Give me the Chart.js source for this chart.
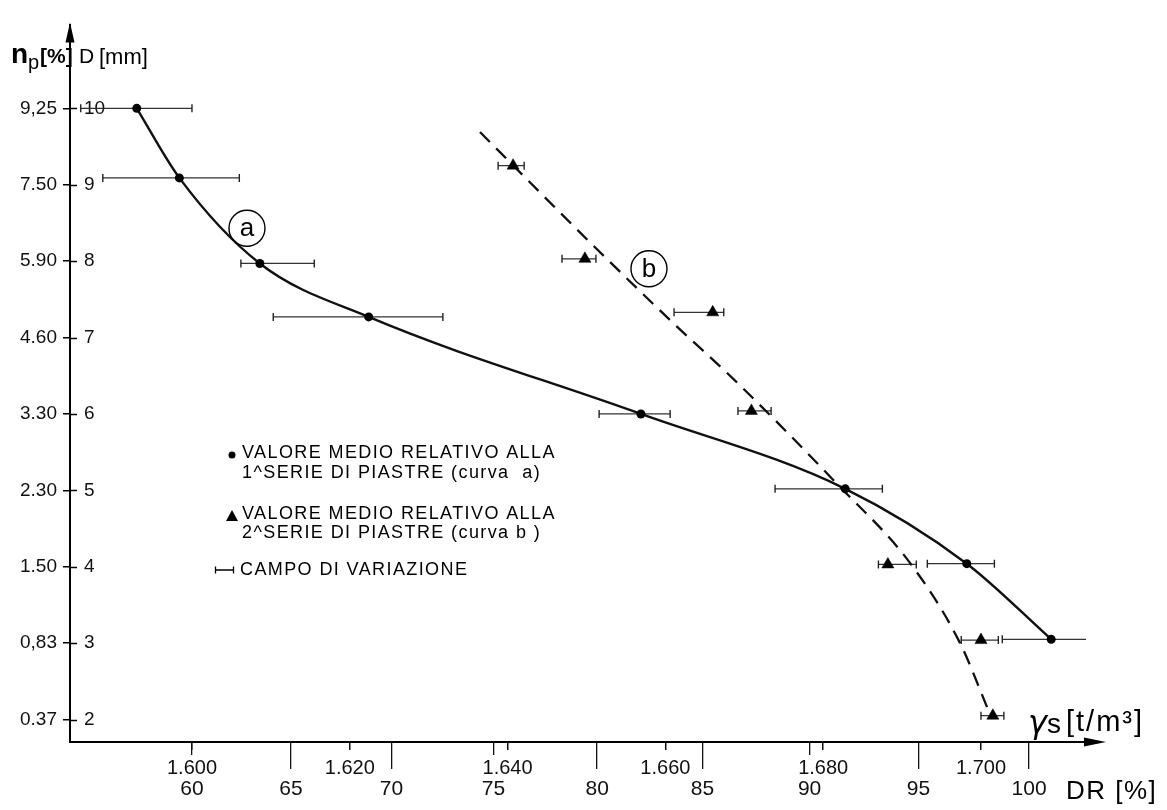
<!DOCTYPE html>
<html><head><meta charset="utf-8">
<script src="https://cdn.jsdelivr.net/npm/chart.js@4.4.1/dist/chart.umd.min.js"></script>
<style>html,body{margin:0;padding:0;background:#fff}#wrap{width:1167px;height:810px;position:relative}</style>
</head><body><div id="wrap"><canvas id="c"></canvas></div>
<script>
// ---------------- data ----------------
const dLevels    = [2, 3, 4, 5, 6, 7, 8, 9, 10];                    // D [mm]
const npLabels   = ['0.37', '0,83', '1.50', '2.30', '3.30', '4.60', '5.90', '7.50', '9,25']; // np [%]
const gammaTicks = [1.600, 1.620, 1.640, 1.660, 1.680, 1.700];     // γs [t/m³]
const drTicks    = [60, 65, 70, 75, 80, 85, 90, 95, 100];          // DR [%]
const drGammaMin = 1.4635;   // γ at DR = 0 %
const drGammaMax = 1.7061;   // γ at DR = 100 %

// curve a — 1^ serie di piastre (mean value + range)
const aGamma = [1.5930, 1.5984, 1.6086, 1.6224, 1.6569, 1.6828, 1.6982, 1.7089];
const aD     = [10.00, 9.09, 7.97, 7.27, 6.00, 5.02, 4.04, 3.05];
const aLow   = [1.5859, 1.5887, 1.6062, 1.6103, 1.6516, 1.6739, 1.6932, 1.7027];
const aHigh  = [1.6000, 1.6060, 1.6155, 1.6318, 1.6606, 1.6875, 1.7017, 1.7139];

// 2^ serie di piastre (mean value + range)
const bGamma = [1.6407, 1.6498, 1.6660, 1.6709, 1.6882, 1.7000, 1.7015];
const bD     = [9.25, 8.03, 7.33, 6.04, 4.03, 3.04, 2.05];
const bLow   = [1.6388, 1.6469, 1.6611, 1.6692, 1.6870, 1.6975, 1.7000];
const bHigh  = [1.6421, 1.6512, 1.6674, 1.6734, 1.6918, 1.7022, 1.7029];

// curve b — dashed trend line
const bCurveGamma = [1.6365, 1.6508, 1.6615, 1.6686, 1.6818, 1.6910, 1.6973, 1.7011];
const bCurveD     = [9.69, 8.21, 7.14, 6.46, 5.08, 4.05, 3.01, 2.08];

// ---------------- helpers ----------------
const FONT = "'Liberation Sans', Arial, sans-serif";
Chart.defaults.font.family = FONT;
Chart.defaults.color = '#111';

function drToGamma(dr) {
  const r = dr / 100;
  return drGammaMax * drGammaMin / (drGammaMax - r * (drGammaMax - drGammaMin));
}
function pts(xs, ys) { return xs.map((x, i) => ({x: x, y: ys[i]})); }
function rangeBars(lo, hi, y) {
  const out = [];
  for (let i = 0; i < y.length; i++) {
    out.push({x: lo[i], y: y[i]}, {x: hi[i], y: y[i]}, {x: hi[i], y: null});
  }
  return out;
}

const xMin = 1.58454, xMax = 1.71331;
const yMin = 1.706, yMax = 11.086;

// ---------------- decorations plugin ----------------
const deco = {
  id: 'deco',
  afterDraw(chart) {
    const ctx = chart.ctx, ca = chart.chartArea;
    const xs = chart.scales.x, ys = chart.scales.y;
    ctx.save();
    ctx.fillStyle = '#000'; ctx.strokeStyle = '#000';

    // inward half of y tick crosses
    ctx.lineWidth = 1.5;
    dLevels.forEach(d => {
      const py = Math.round(ys.getPixelForValue(d)) + 0.5;
      ctx.beginPath(); ctx.moveTo(ca.left, py); ctx.lineTo(ca.left + 7, py); ctx.stroke();
    });

    // arrow heads
    ctx.beginPath();
    ctx.moveTo(ca.left, ca.top - 3); ctx.lineTo(ca.left - 4.5, ca.top + 17); ctx.lineTo(ca.left + 4.5, ca.top + 17);
    ctx.closePath(); ctx.fill();
    ctx.beginPath();
    ctx.moveTo(ca.right + 20, ca.bottom); ctx.lineTo(ca.right - 2, ca.bottom - 4.5); ctx.lineTo(ca.right - 2, ca.bottom + 4.5);
    ctx.closePath(); ctx.fill();

    // axis titles (top-left)
    ctx.textBaseline = 'alphabetic'; ctx.textAlign = 'left';
    ctx.font = 'bold 28px ' + FONT; ctx.fillText('n', 11, 63);
    ctx.font = '20px ' + FONT; ctx.fillText('p', 28, 69);
    ctx.font = 'bold 21px ' + FONT; ctx.fillText('[%]', 40, 63);
    ctx.font = '21px ' + FONT; ctx.fillText('D', 79, 63);
    ctx.font = '22px ' + FONT; ctx.fillText('[mm]', 99, 64);

    // γs [t/m³]
    ctx.font = 'italic 32px DejaVu Sans'; ctx.fillText('γ', 1028, 733);
    ctx.font = '28px ' + FONT; ctx.fillText('s', 1047, 733);
    ctx.font = '29px ' + FONT;
    if ('letterSpacing' in ctx) ctx.letterSpacing = '2px';
    ctx.fillText('[t/m³]', 1066, 731);
    if ('letterSpacing' in ctx) ctx.letterSpacing = '1.5px';

    // DR [%]
    ctx.font = '26px ' + FONT; ctx.textBaseline = 'middle';
    ctx.fillText('DR [%]', 1066, 792);

    // legend
    ctx.font = '18px ' + FONT; ctx.textBaseline = 'middle';
    if ('letterSpacing' in ctx) ctx.letterSpacing = '1.4px';
    ctx.beginPath(); ctx.arc(232, 455, 3.5, 0, Math.PI * 2); ctx.fill();
    ctx.fillText('VALORE MEDIO RELATIVO ALLA', 242, 453);
    ctx.fillText('1^SERIE DI PIASTRE (curva  a)', 242, 473);
    ctx.beginPath(); ctx.moveTo(232, 510); ctx.lineTo(226, 521); ctx.lineTo(238, 521); ctx.closePath(); ctx.fill();
    ctx.fillText('VALORE MEDIO RELATIVO ALLA', 242, 514);
    ctx.fillText('2^SERIE DI PIASTRE (curva b )', 242, 533);
    ctx.lineWidth = 1.3;
    ctx.beginPath(); ctx.moveTo(215, 570); ctx.lineTo(234, 570);
    ctx.moveTo(215.5, 566.5); ctx.lineTo(215.5, 573.5); ctx.moveTo(233.5, 566.5); ctx.lineTo(233.5, 573.5); ctx.stroke();
    ctx.fillText('CAMPO DI VARIAZIONE', 240, 570);
    if ('letterSpacing' in ctx) ctx.letterSpacing = '0px';

    // circled curve labels
    const lab = [{t: 'a', g: 1.60697, d: 8.43}, {t: 'b', g: 1.65792, d: 7.90}];
    ctx.font = '26px ' + FONT; ctx.textAlign = 'center'; ctx.textBaseline = 'middle';
    ctx.lineWidth = 1.4;
    lab.forEach(l => {
      const px = xs.getPixelForValue(l.g), py = ys.getPixelForValue(l.d);
      ctx.beginPath(); ctx.arc(px, py, 18, 0, Math.PI * 2); ctx.stroke();
      ctx.fillText(l.t, px, py + 1);
    });
    ctx.restore();
  }
};

// ---------------- chart ----------------
new Chart(document.getElementById('c'), {
  type: 'line',
  data: {
    datasets: [
      { label: 'curva a', data: pts(aGamma, aD), borderColor: '#111', borderWidth: 2.4,
        pointRadius: 4.5, pointBackgroundColor: '#000', pointBorderWidth: 0,
        cubicInterpolationMode: 'monotone', fill: false },
      { label: '2^ serie', data: pts(bGamma, bD), showLine: false, pointStyle: 'triangle',
        pointRadius: 7, pointBackgroundColor: '#000', pointBorderColor: '#000', pointBorderWidth: 0.5 },
      { label: 'curva b', data: pts(bCurveGamma, bCurveD), borderColor: '#111', borderWidth: 2.3,
        borderDash: [14, 9], pointRadius: 0, cubicInterpolationMode: 'monotone', fill: false },
      { label: 'campo a', data: rangeBars(aLow, aHigh, aD), borderColor: '#333', borderWidth: 1.2,
        pointStyle: 'line', pointRotation: 90, pointRadius: 4, pointBorderColor: '#222', pointBorderWidth: 1.4,
        spanGaps: false, tension: 0 },
      { label: 'campo b', data: rangeBars(bLow, bHigh, bD), borderColor: '#333', borderWidth: 1.2,
        pointStyle: 'line', pointRotation: 90, pointRadius: 4, pointBorderColor: '#222', pointBorderWidth: 1.4,
        spanGaps: false, tension: 0 }
    ]
  },
  options: {
    responsive: true, maintainAspectRatio: false, animation: false, devicePixelRatio: 1,
    layout: { padding: { left: 0, top: 9, right: 81, bottom: 0 } },
    plugins: { legend: { display: false }, tooltip: { enabled: false } },
    scales: {
      x: {
        type: 'linear', position: 'bottom', weight: 0, min: xMin, max: xMax,
        // zero-height box so the DR ticks start at the axis line; labels drawn without clipping
        afterFit(s) { s.height = 0; s._computeLabelArea = () => undefined; },
        afterBuildTicks(s) { s.ticks = gammaTicks.map(v => ({value: v})); },
        grid: { drawOnChartArea: false, tickLength: 8, color: '#111', lineWidth: 1.5 },
        border: { display: true, color: '#000', width: 2 },
        ticks: { callback: v => v.toFixed(3), font: { size: 20 }, color: '#111', padding: 6,
                 maxRotation: 0, autoSkip: false, showLabelBackdrop: true,
                 backdropColor: '#fff', backdropPadding: 1, z: 1 }
      },
      xDR: {
        type: 'linear', position: 'bottom', weight: 1, min: xMin, max: xMax,
        afterFit(s) { s.height = 68; },
        afterBuildTicks(s) { s.ticks = drTicks.map(d => ({value: drToGamma(d)})); },
        grid: { drawOnChartArea: false, tickLength: 27, color: '#111', lineWidth: 1.3 },
        border: { display: false },
        ticks: { callback: (v, i) => String(drTicks[i]), font: { size: 21 }, color: '#111',
                 padding: 8, maxRotation: 0, autoSkip: false }
      },
      y: {
        type: 'linear', position: 'left', weight: 1, min: yMin, max: yMax,
        afterFit(s) { s.width = 70; },
        afterBuildTicks(s) { s.ticks = dLevels.map(v => ({value: v})); },
        grid: { drawOnChartArea: false, tickLength: 7, color: '#000', lineWidth: 1.5 },
        border: { display: true, color: '#000', width: 2 },
        ticks: { callback: (v, i) => npLabels[i], font: { size: 19 }, color: '#111', padding: 6, autoSkip: false }
      },
      yD: {
        type: 'linear', position: 'left', weight: 0, min: yMin, max: yMax,
        afterFit(s) { s.width = 0; },
        afterBuildTicks(s) { s.ticks = dLevels.map(v => ({value: v})); },
        grid: { display: false, drawTicks: false },
        border: { display: false },
        ticks: { mirror: true, padding: 14, callback: (v, i) => String(dLevels[i]), font: { size: 19 },
                 color: '#111', autoSkip: false }
      }
    }
  },
  plugins: [deco]
});
</script>
</body></html>
